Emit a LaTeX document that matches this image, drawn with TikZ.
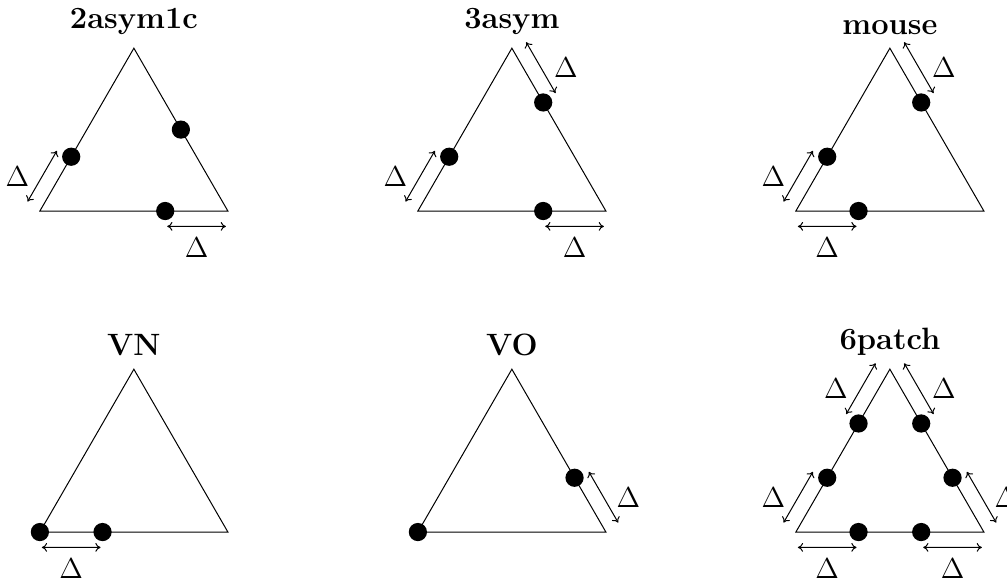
\documentclass[tikz,border=0pt]{standalone}
\usepackage{amsmath}
\usetikzlibrary{positioning,calc,arrows.meta}

\begin{document}
\begin{tikzpicture}[
    line width=0.5pt,
    dot/.style={circle, fill=black, inner sep=0pt, minimum size=0.32cm},
    title/.style={font=\fontsize{15.4}{18}\selectfont\bfseries, anchor=south},
    gap/.style={{To[length=2.6pt, width=4.4pt]}-{To[length=2.6pt, width=4.4pt]}, shorten <=1pt, shorten >=1pt},
    lab/.style={font=\Large},
]
\useasboundingbox (0,0) rectangle (17.676,10.304);

% 2asym1c
\coordinate (bl1) at (0.70,6.60);
\coordinate (br1) at (4.00,6.60);
\coordinate (top1) at (2.35,9.458);
\draw (bl1) -- (br1) -- (top1) -- cycle;
\node[title, above=3.2pt of top1] (t1) {2asym1c};
\node[dot] (d1a) at ($(bl1)!1/3!(top1)$) {};
\node[dot] (d1b) at ($(br1)!1/2!(top1)$) {};
\node[dot] (d1c) at ($(br1)!1/3!(bl1)$) {};
\draw[gap] ($(d1a)!0.27cm!-90:(bl1)$) -- node[lab, left=3pt] {$\Delta$} ($(bl1)!0.27cm!90:(d1a)$);
\draw[gap] ($(d1c)!0.27cm!-90:(br1)$) -- node[lab, below=2pt] {$\Delta$} ($(br1)!0.27cm!90:(d1c)$);

% 3asym
\coordinate (bl2) at (7.335,6.60);
\coordinate (br2) at (10.635,6.60);
\coordinate (top2) at (8.985,9.458);
\draw (bl2) -- (br2) -- (top2) -- cycle;
\node[title, above=3.2pt of top2] (t2) {3asym};
\node[dot] (d2a) at ($(bl2)!1/3!(top2)$) {};
\node[dot] (d2b) at ($(top2)!1/3!(br2)$) {};
\node[dot] (d2c) at ($(br2)!1/3!(bl2)$) {};
\draw[gap] ($(d2a)!0.27cm!-90:(bl2)$) -- node[lab, left=3pt] {$\Delta$} ($(bl2)!0.27cm!90:(d2a)$);
\draw[gap] ($(d2b)!0.27cm!-90:(top2)$) -- node[lab, right=3pt] {$\Delta$} ($(top2)!0.27cm!90:(d2b)$);
\draw[gap] ($(d2c)!0.27cm!-90:(br2)$) -- node[lab, below=2pt] {$\Delta$} ($(br2)!0.27cm!90:(d2c)$);

% mouse
\coordinate (bl3) at (13.97,6.60);
\coordinate (br3) at (17.27,6.60);
\coordinate (top3) at (15.62,9.458);
\draw (bl3) -- (br3) -- (top3) -- cycle;
\node[title, above=3.2pt of top3] (t3) {mouse};
\node[dot] (d3a) at ($(bl3)!1/3!(top3)$) {};
\node[dot] (d3b) at ($(top3)!1/3!(br3)$) {};
\node[dot] (d3c) at ($(bl3)!1/3!(br3)$) {};
\draw[gap] ($(d3a)!0.27cm!-90:(bl3)$) -- node[lab, left=3pt] {$\Delta$} ($(bl3)!0.27cm!90:(d3a)$);
\draw[gap] ($(d3b)!0.27cm!-90:(top3)$) -- node[lab, right=3pt] {$\Delta$} ($(top3)!0.27cm!90:(d3b)$);
\draw[gap] ($(bl3)!0.27cm!-90:(d3c)$) -- node[lab, below=2pt] {$\Delta$} ($(d3c)!0.27cm!90:(bl3)$);

% VN
\coordinate (bl4) at (0.70,0.965);
\coordinate (br4) at (4.00,0.965);
\coordinate (top4) at (2.35,3.823);
\draw (bl4) -- (br4) -- (top4) -- cycle;
\node[title, above=3.2pt of top4] (t4) {VN};
\node[dot] (d4a) at (bl4) {};
\node[dot] (d4b) at ($(bl4)!1/3!(br4)$) {};
\draw[gap] ($(bl4)!0.27cm!-90:(d4b)$) -- node[lab, below=2pt] {$\Delta$} ($(d4b)!0.27cm!90:(bl4)$);

% VO
\coordinate (bl5) at (7.335,0.965);
\coordinate (br5) at (10.635,0.965);
\coordinate (top5) at (8.985,3.823);
\draw (bl5) -- (br5) -- (top5) -- cycle;
\node[title, above=3.2pt of top5] (t5) {VO};
\node[dot] (d5a) at (bl5) {};
\node[dot] (d5b) at ($(br5)!1/3!(top5)$) {};
\draw[gap] ($(br5)!0.27cm!-90:(d5b)$) -- node[lab, right=3pt] {$\Delta$} ($(d5b)!0.27cm!90:(br5)$);

% 6patch
\coordinate (bl6) at (13.97,0.965);
\coordinate (br6) at (17.27,0.965);
\coordinate (top6) at (15.62,3.823);
\draw (bl6) -- (br6) -- (top6) -- cycle;
\node[title, above=3.2pt of top6] (t6) {6patch};
\node[dot] (d6a) at ($(bl6)!1/3!(br6)$) {};
\node[dot] (d6b) at ($(bl6)!2/3!(br6)$) {};
\node[dot] (d6c) at ($(br6)!1/3!(top6)$) {};
\node[dot] (d6d) at ($(br6)!2/3!(top6)$) {};
\node[dot] (d6e) at ($(top6)!1/3!(bl6)$) {};
\node[dot] (d6f) at ($(top6)!2/3!(bl6)$) {};
\draw[gap] ($(bl6)!0.27cm!-90:(d6a)$) -- node[lab, below=2pt] {$\Delta$} ($(d6a)!0.27cm!90:(bl6)$);
\draw[gap] ($(d6b)!0.27cm!-90:(br6)$) -- node[lab, below=2pt] {$\Delta$} ($(br6)!0.27cm!90:(d6b)$);
\draw[gap] ($(br6)!0.27cm!-90:(d6c)$) -- node[lab, right=3pt] {$\Delta$} ($(d6c)!0.27cm!90:(br6)$);
\draw[gap] ($(d6d)!0.27cm!-90:(top6)$) -- node[lab, right=3pt] {$\Delta$} ($(top6)!0.27cm!90:(d6d)$);
\draw[gap] ($(top6)!0.27cm!-90:(d6e)$) -- node[lab, left=3pt] {$\Delta$} ($(d6e)!0.27cm!90:(top6)$);
\draw[gap] ($(d6f)!0.27cm!-90:(bl6)$) -- node[lab, left=3pt] {$\Delta$} ($(bl6)!0.27cm!90:(d6f)$);
\end{tikzpicture}
\end{document}
